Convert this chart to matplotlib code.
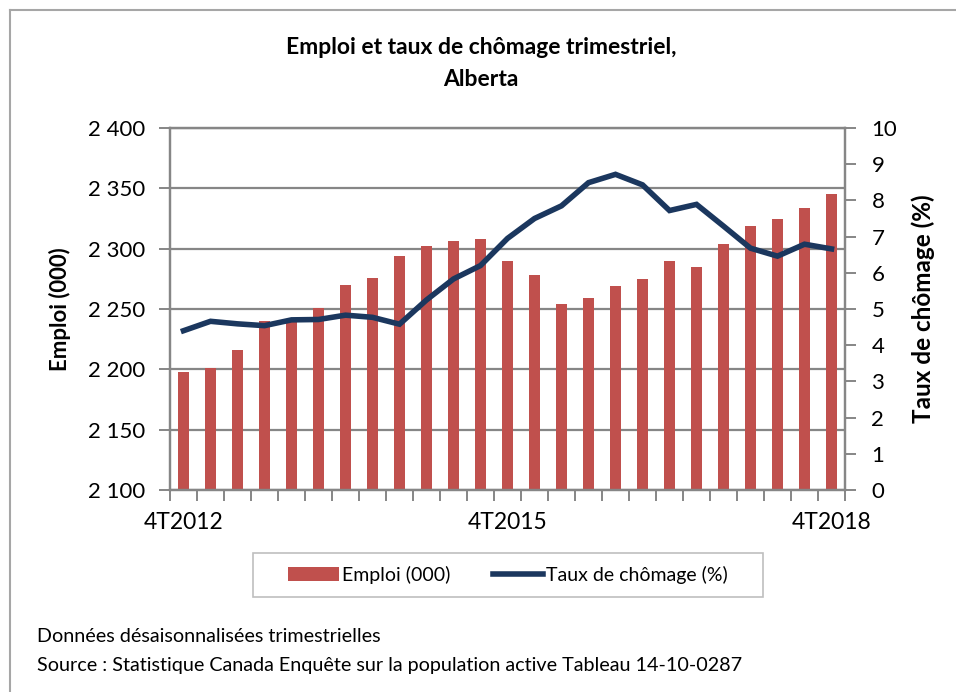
import matplotlib
matplotlib.use("Agg")
import matplotlib.pyplot as plt
from matplotlib.lines import Line2D
from matplotlib.patches import Patch, Rectangle
import numpy as np

plt.rcParams['font.family'] = ['Lato', 'DejaVu Sans']

quarters = ["4T2012", "1T2013", "2T2013", "3T2013", "4T2013", "1T2014", "2T2014", "3T2014",
            "4T2014", "1T2015", "2T2015", "3T2015", "4T2015", "1T2016", "2T2016", "3T2016",
            "4T2016", "1T2017", "2T2017", "3T2017", "4T2017", "1T2018", "2T2018", "3T2018",
            "4T2018"]
emploi = [2198, 2201, 2216, 2240, 2240, 2251, 2270, 2276, 2294, 2302, 2306, 2308, 2290,
          2278, 2254, 2259, 2269, 2275, 2290, 2285, 2304, 2319, 2325, 2334, 2345]
chomage = [4.40, 4.66, 4.59, 4.54, 4.70, 4.71, 4.83, 4.77, 4.58, 5.25, 5.83, 6.20, 6.95,
           7.50, 7.85, 8.49, 8.72, 8.43, 7.72, 7.89, 7.29, 6.68, 6.46, 6.79, 6.66]
left_ticks = [2100, 2150, 2200, 2250, 2300, 2350, 2400]
right_ticks = list(range(0, 11))
shown_labels = {"4T2012", "4T2015", "4T2018"}

bar_color = "#C0504D"
line_color = "#1B375E"
grid_color = "#868686"

fig = plt.figure(figsize=(9.56, 6.92), dpi=100)
W, H = 956, 692
ax = fig.add_axes([170 / W, 1 - 490 / H, (845 - 170) / W, (490 - 128) / H])
x = np.arange(len(quarters))
ax.bar(x, [v - left_ticks[0] for v in emploi], bottom=left_ticks[0], width=0.4,
       color=bar_color, zorder=2)
ax.set_xlim(-0.5, len(quarters) - 0.5)
ax.set_ylim(left_ticks[0], left_ticks[-1])
ax.set_yticks(left_ticks)
ax.set_yticklabels([f"{v // 1000} {v % 1000:03d}" for v in left_ticks])
ax.yaxis.grid(True, color=grid_color, linewidth=1.6, zorder=0)
ax.set_axisbelow(True)
ax.set_xticks(np.arange(-0.5, len(quarters) + 0.5, 1))
ax.set_xticklabels([])
ax.set_xticks(x, minor=True)
ax.set_xticklabels([q if q in shown_labels else "" for q in quarters], minor=True)
ax.tick_params(axis='x', which='major', length=8, width=1.4, color=grid_color, direction='out')
ax.tick_params(axis='x', which='minor', length=0, labelsize=16.5, pad=16)
ax.tick_params(axis='y', length=8, width=1.4, color=grid_color, labelsize=16, pad=10)
for s in ax.spines.values():
    s.set_color(grid_color)
    s.set_linewidth(1.6)
ax.set_ylabel("Emploi (000)", fontsize=16, fontweight='bold', labelpad=12)

ax2 = ax.twinx()
ax2.plot(x, chomage, color=line_color, linewidth=4, solid_joinstyle='miter', zorder=3)
ax2.set_ylim(right_ticks[0], right_ticks[-1])
ax2.set_yticks(right_ticks)
ax2.tick_params(axis='y', length=8, width=1.4, color=grid_color, labelsize=16, pad=11)
for s in ax2.spines.values():
    s.set_color(grid_color)
    s.set_linewidth(1.6)
ax2.set_ylabel("Taux de chômage (%)", fontsize=17.5, fontweight='bold', labelpad=10)

fig.text(481 / W, 1 - 47 / H, "Emploi et taux de chômage trimestriel,", ha='center', va='center',
         fontsize=16.5, fontweight='bold')
fig.text(481 / W, 1 - 80 / H, "Alberta", ha='center', va='center', fontsize=16.5, fontweight='bold')

# legend frame drawn separately for wider padding
fig.add_artist(Rectangle((253 / W, 1 - 597 / H), (763 - 253) / W, (597 - 553) / H,
                         transform=fig.transFigure, facecolor='white', edgecolor="#BFBFBF",
                         linewidth=1.2, zorder=4))
handles = [Patch(facecolor=bar_color, edgecolor='none'),
           Line2D([0], [0], color=line_color, linewidth=4)]
leg = fig.legend(handles, ["Emploi (000)", "Taux de chômage (%)"], ncol=2,
                 loc='center', bbox_to_anchor=(508 / W, 1 - 575 / H), fontsize=14,
                 frameon=False, handlelength=2.6, handletextpad=0.15, columnspacing=2.2)
leg.set_zorder(5)

fig.text(37 / W, 1 - 637 / H, "Données désaisonnalisées trimestrielles", ha='left', va='center',
         fontsize=14.2)
fig.text(37 / W, 1 - 665 / H, "Source : Statistique Canada Enquête sur la population active Tableau 14-10-0287",
         ha='left', va='center', fontsize=14.2)

fig.add_artist(Line2D([10 / W, 1], [1 - 9.5 / H, 1 - 9.5 / H], color="#A6A6A6", linewidth=1.5,
                      transform=fig.transFigure))
fig.add_artist(Line2D([10 / W, 10 / W], [0, 1 - 9.5 / H], color="#A6A6A6", linewidth=1.5,
                      transform=fig.transFigure))

fig.savefig("out.png", dpi=100)
